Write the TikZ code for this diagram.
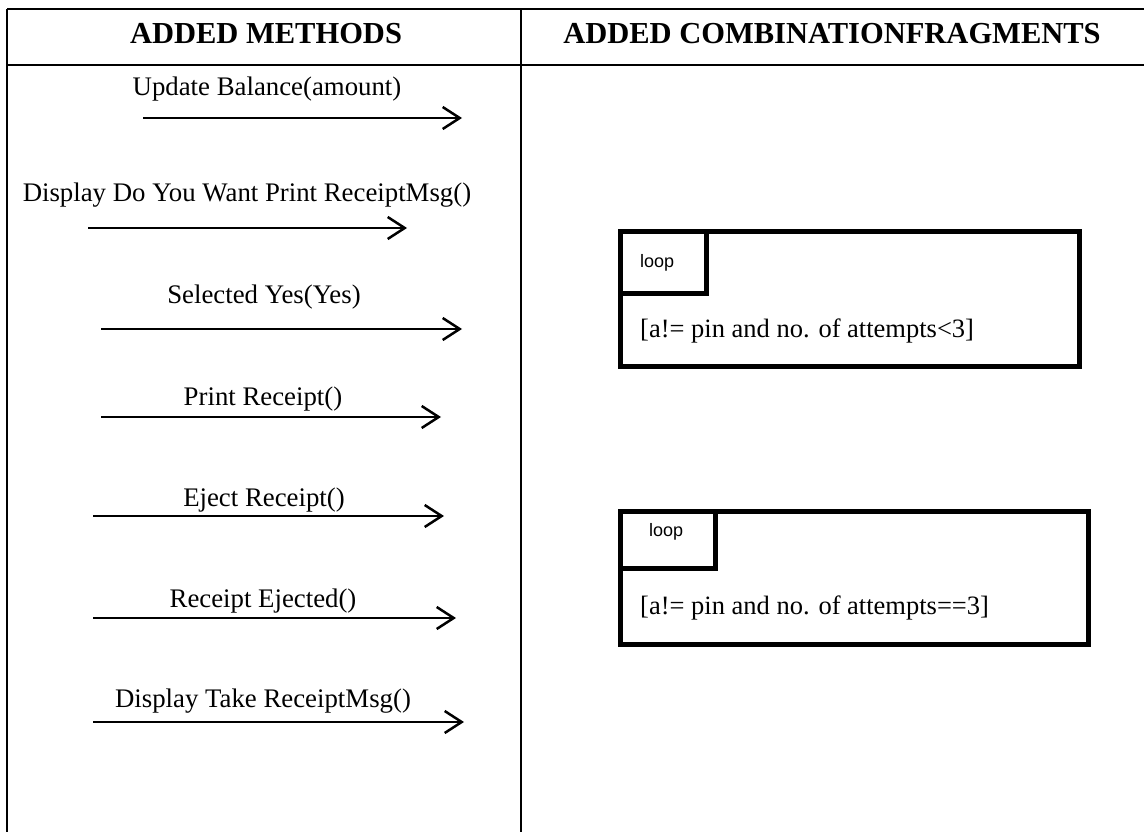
\documentclass[tikz,border=0pt]{standalone}
\usepackage{fontspec}
\setmainfont{Liberation Serif}
\newfontfamily\sansloop{Liberation Sans}
\usetikzlibrary{arrows.meta}
\tikzset{
  grid/.style={line width=2pt, black},
  hdr/.style={font=\fontsize{30.5}{36}\selectfont\bfseries, inner sep=0pt, anchor=base},
  lbl/.style={font=\fontsize{26.8}{30}\selectfont, inner sep=0pt, anchor=base},
  msg/.style={line width=2.5pt, -{Straight Barb[length=17pt,width=22pt,line width=2.5pt]}},
  frame/.style={draw, line width=5pt, rectangle, anchor=north west, inner sep=0pt},
  tagtxt/.style={font=\sansloop\fontsize{18}{20}\selectfont, inner sep=0pt, anchor=west},
  guard/.style={font=\fontsize{26.5}{30}\selectfont, inner sep=0pt, anchor=base west}
}
\begin{document}
\begin{tikzpicture}[x=1pt,y=-1pt]
\useasboundingbox (0,0) rectangle (1144,832);
% table grid
\coordinate (tl) at (7,9);
\coordinate (tr) at (1144,9);
\coordinate (hl) at (7,65);
\coordinate (hr) at (1144,65);
\coordinate (bl) at (7,832);
\coordinate (dt) at (521,9);
\coordinate (db) at (521,832);
\draw[grid, line width=2.5pt] (tl) -- (tr);
\draw[grid] (hl) -- (hr);
\draw[grid] (tl) -- (bl);
\draw[grid] (dt) -- (db);
% headers
\node[hdr] (h1) at (266,44) {ADDED METHODS};
\node[hdr] (h2) at (832,44) {ADDED COMBINATIONFRAGMENTS};
% messages
\node[lbl] (l1) at (267,96) {Update Balance(amount)};
\coordinate (a1s) at (143,118); \coordinate (a1e) at (462,118);
\draw[msg] (a1s) -- (a1e);
\node[lbl] (l2) at (247,202) {Display Do You Want Print ReceiptMsg()};
\coordinate (a2s) at (88,228); \coordinate (a2e) at (407,228);
\draw[msg] (a2s) -- (a2e);
\node[lbl] (l3) at (264,303) {Selected Yes(Yes)};
\coordinate (a3s) at (101,329); \coordinate (a3e) at (462,329);
\draw[msg] (a3s) -- (a3e);
\node[lbl] (l4) at (263,405) {Print Receipt()};
\coordinate (a4s) at (101,417); \coordinate (a4e) at (441,417);
\draw[msg] (a4s) -- (a4e);
\node[lbl] (l5) at (264,506) {Eject Receipt()};
\coordinate (a5s) at (93,516); \coordinate (a5e) at (444,516);
\draw[msg] (a5s) -- (a5e);
\node[lbl] (l6) at (263,607) {Receipt Ejected()};
\coordinate (a6s) at (93,618); \coordinate (a6e) at (456,618);
\draw[msg] (a6s) -- (a6e);
\node[lbl] (l7) at (263,707) {Display Take ReceiptMsg()};
\coordinate (a7s) at (93,722); \coordinate (a7e) at (464,722);
\draw[msg] (a7s) -- (a7e);
% loop fragment 1
\node[frame, minimum width=459pt, minimum height=135pt] (f1) at (617.5,228.5) {};
\node[frame, minimum width=86pt, minimum height=62pt] (t1) at (617.5,228.5) {};
\node[tagtxt] (t1l) at (640,263) {loop};
\node[guard] (g1) at (640,337) {[a!= pin and no. of attempts<3]};
% loop fragment 2
\node[frame, minimum width=468pt, minimum height=133pt] (f2) at (617.5,508.5) {};
\node[frame, minimum width=95pt, minimum height=57pt] (t2) at (617.5,508.5) {};
\node[tagtxt] (t2l) at (649,532) {loop};
\node[guard] (g2) at (640,614) {[a!= pin and no. of attempts==3]};
\end{tikzpicture}
\end{document}
